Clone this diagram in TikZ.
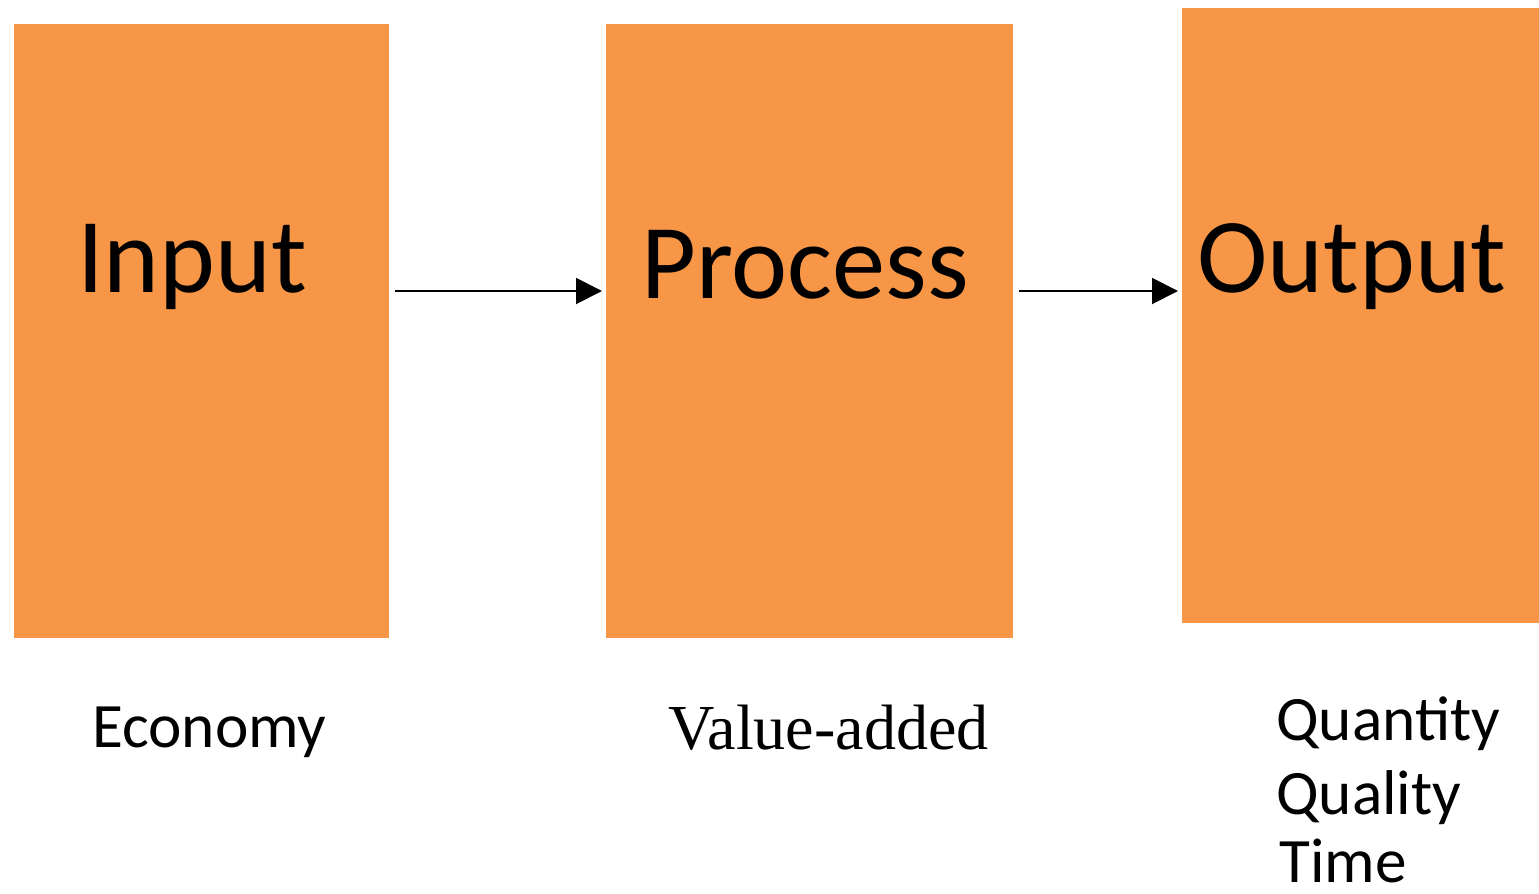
\documentclass[tikz,border=0pt]{standalone}
\usepackage{fontspec}
\setmainfont{Carlito}
\newfontfamily\timesfont{Liberation Serif}
\usetikzlibrary{positioning,arrows.meta}
\definecolor{boxorange}{HTML}{F79646}

\begin{document}
\begin{tikzpicture}[%
    x=0.02cm,
    y=-0.02cm,
    >={Triangle[length=0.52cm,width=0.52cm]},
    stage/.style={%
      rectangle,
      fill=boxorange,
      inner sep=0pt,
      anchor=north west,
      minimum height=12.28cm
    },
    big/.style={%
      font=\fontsize{60.5}{72}\selectfont,
      anchor=base,
      inner sep=0pt
    },
    small/.style={%
      font=\fontsize{36}{43}\selectfont,
      anchor=base west,
      inner sep=0pt
    }
  ]
    \useasboundingbox (0,0) rectangle (1539,893);

    \node[stage, minimum width=7.5cm]  (in)   at (14,24)   {};
    \node[stage, minimum width=8.14cm] (proc) at (606,24)  {};
    \node[stage, minimum width=7.14cm, minimum height=12.3cm] (out) at (1182,8) {};

    \node[big] (intxt)   at (192,292)  {Input};
    \node[big] (proctxt) at (805,298)  {Process};
    \node[big] (outtxt)  at (1352,292) {Output};

    \node[small] (econ)  at (92,747)   {Economy};
    \node[small, font=\timesfont\fontsize{36.5}{44}\selectfont] (value) at (668,749) {Value-added};
    \node[small] (qty)   at (1276,740) {Quantity};
    \node[small] (qual)  at (1276,814) {Quality};
    \node[small] (tim)   at (1279,882) {Time};

    \coordinate (arw) at (0,291);
    \path[->, line width=1.1pt, shorten <=0.1cm, shorten >=0.08cm]
          (in.east |- arw)  edge (proc.west |- arw)
          (proc.east |- arw) edge (out.west |- arw);
\end{tikzpicture}
\end{document}
